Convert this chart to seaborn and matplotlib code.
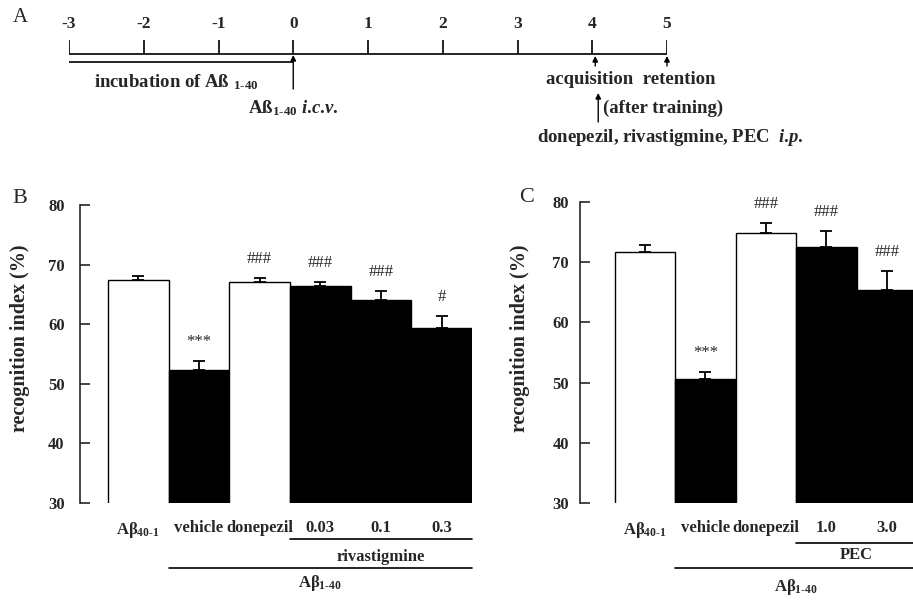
import numpy as np
import pandas as pd
import matplotlib
matplotlib.use("Agg")
import matplotlib.pyplot as plt
import matplotlib.transforms as mtransforms
import seaborn as sns

# --- panel A: timeline (days) ---
days = [-3, -2, -1, 0, 1, 2, 3, 4, 5]
icv_day = 0
acq_day = 4.04
ret_day = 5
drug_day = 4.08

# --- panel B: rivastigmine ---
cats_b = ["Aβ$_{40‐1}$", "vehicle", "donepezil", "0.03", "0.1", "0.3"]
vals_b = [67.4, 52.3, 67.1, 66.4, 64.1, 59.4]
sem_b = [0.7, 1.5, 0.7, 0.7, 1.5, 2.0]
sig_b = ["", "***", "###", "###", "###", "#"]
fill_b = ["white", "black", "white", "black", "black", "black"]
riva_idx = [3, 4, 5]
abeta_idx_b = [1, 2, 3, 4, 5]

# --- panel C: PEC ---
cats_c = ["Aβ$_{40‐1}$", "vehicle", "donepezil", "1.0", "3.0"]
vals_c = [71.7, 50.6, 74.9, 72.5, 65.4]
sem_c = [1.2, 1.2, 1.6, 2.7, 3.1]
sig_c = ["", "***", "###", "###", "###"]
fill_c = ["white", "black", "white", "black", "black"]
pec_idx = [3, 4]
abeta_idx_c = [1, 2, 3, 4]

sns.set_style("ticks")
plt.rcParams['font.family'] = ['Liberation Serif', 'DejaVu Serif']
plt.rcParams['font.weight'] = 'bold'
plt.rcParams['mathtext.fontset'] = 'custom'
plt.rcParams['mathtext.rm'] = 'Liberation Serif:bold'
plt.rcParams['mathtext.bf'] = 'Liberation Serif:bold'
plt.rcParams['mathtext.it'] = 'Liberation Serif:italic:bold'

W, H = 913, 600
fig = plt.figure(figsize=(W / 100, H / 100), dpi=100)


def px_axes(left, top, right, bottom):
    return fig.add_axes([left / W, 1 - bottom / H, (right - left) / W, (bottom - top) / H])


# ---------------- panel A ----------------
ax_a = px_axes(69, 0, 667, 150)
ax_a.set_xlim(days[0], days[-1])
ax_a.set_ylim(150, 0)
ax_a.axis("off")
lw = 1.2
ax_a.hlines(54, days[0], days[-1], color="black", lw=lw)
ax_a.vlines(days, 40, 54, color="black", lw=lw)
for d in days:
    ax_a.text(d, 24, str(d), ha="center", va="center", fontsize=12.5)
ax_a.hlines(62, days[0], icv_day, color="black", lw=lw)
arrow = dict(arrowstyle="-|>", color="black", lw=1, mutation_scale=8, shrinkA=0, shrinkB=0)
ax_a.annotate("", xy=(icv_day, 55), xytext=(icv_day, 89), arrowprops=arrow)
for d in (acq_day, ret_day):
    ax_a.annotate("", xy=(d, 56), xytext=(d, 66), arrowprops=arrow)
ax_a.annotate("", xy=(drug_day, 93), xytext=(drug_day, 122), arrowprops=arrow)
fs_a = 13.5
ax_a.text((days[0] + icv_day) / 2 - 0.07, 82, "incubation of Aß $_{1‐40}$",
          ha="center", va="center", fontsize=fs_a)
ax_a.text(icv_day, 108, r"Aß$_{1‐40}$ $\mathit{i}$.$\mathit{c}$.$\mathit{v}$.",
          ha="center", va="center", fontsize=fs_a)
ax_a.text((acq_day + ret_day) / 2, 80, "acquisition  retention", ha="center", va="center", fontsize=fs_a)
ax_a.text(drug_day + 0.06, 108, "(after training)", ha="left", va="center", fontsize=fs_a)
ax_a.text(ret_day + 0.04, 137, r"donepezil, rivastigmine, PEC  $\mathit{i}$.$\mathit{p}$.",
          ha="center", va="center", fontsize=fs_a, clip_on=False)


# ---------------- panels B and C ----------------
def bar_panel(ax, cats, vals, sems, sigs, fills, xlim, label_xy, groups):
    df = pd.DataFrame({"group": cats, "value": vals})
    sns.barplot(data=df, x="group", y="value", hue="group", order=cats,
                palette=dict(zip(cats, fills)), legend=False, width=1.0,
                edgecolor="black", linewidth=1.0, errorbar=None, ax=ax)
    x = np.arange(len(cats))
    ax.errorbar(x, vals, yerr=[np.zeros(len(sems)), sems], fmt="none", ecolor="black",
                elinewidth=1.3, capsize=4.5, capthick=1.3, zorder=3)
    for i, (v, s, t) in enumerate(zip(vals, sems, sigs)):
        if t:
            ax.annotate(t, xy=(i, v + s), xytext=(0, 8), textcoords="offset points",
                        ha="center", va="bottom", fontsize=12, fontweight="normal")
    ax.set_ylim(30, 80)
    ax.set_yticks([30, 40, 50, 60, 70, 80])
    ax.set_xlim(*xlim)
    sns.despine(ax=ax, bottom=True)
    ax.spines["left"].set_linewidth(1.2)
    ax.tick_params(axis="y", direction="in", length=7, width=1.2, labelsize=12)
    ax.tick_params(axis="x", length=0, pad=12, labelsize=12)
    ax.set_xlabel("")
    ax.set_ylabel("recognition index (%)", fontsize=14.5, fontweight="bold")
    ax.yaxis.set_label_coords(*label_xy)
    trans = mtransforms.blended_transform_factory(ax.transData, ax.transAxes)
    for idx, name, y_line, y_text in groups:
        ax.plot([idx[0] - 0.5, idx[-1] + 0.5], [y_line, y_line], transform=trans,
                color="black", lw=1.2, clip_on=False)
        ax.text((idx[0] + idx[-1]) / 2, y_text, name, transform=trans,
                ha="center", va="center", fontsize=12)


ax_b = px_axes(80, 205, 472, 503)
bar_panel(ax_b, cats_b, vals_b, sem_b, sig_b, fill_b, (-0.96, 5.5), (-50 / 392, 0.554),
          [(riva_idx, "rivastigmine", -0.12, -0.18),
           (abeta_idx_b, "Aβ$_{1‐40}$", -0.218, -0.27)])
ax_b.tick_params(axis="y", pad=11)

ax_c = px_axes(580, 202, 913, 503)
bar_panel(ax_c, cats_c, vals_c, sem_c, sig_c, fill_c, (-1.07, 4.43), (-50 / 333, 0.548),
          [(pec_idx, "PEC", -0.133, -0.173),
           (abeta_idx_c, "Aβ$_{1‐40}$", -0.216, -0.28)])
ax_c.tick_params(axis="y", pad=8)

fig.text(20 / W, 1 - 18 / H, "A", fontsize=15, fontweight="normal", ha="center", va="center")
fig.text(20 / W, 1 - 198 / H, "B", fontsize=16, fontweight="normal", ha="center", va="center")
fig.text(527 / W, 1 - 197 / H, "C", fontsize=16, fontweight="normal", ha="center", va="center")

fig.savefig("out.png", dpi=100)
